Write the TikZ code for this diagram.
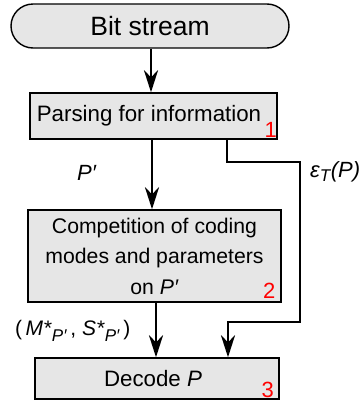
\documentclass[tikz,border=0pt]{standalone}
\usepackage{fontspec}
\setmainfont{Liberation Sans}
\usetikzlibrary{arrows.meta,shapes.misc}
\definecolor{boxgray}{HTML}{E6E6E6}
\begin{document}
\begin{tikzpicture}[x=1pt,y=1pt,
  box/.style={draw=black,line width=1.4pt,fill=boxgray,inner sep=0pt,align=center,font=\fontsize{22.3}{30}\selectfont},
  flow/.style={line width=2.8pt,-{Stealth[length=22pt,width=14pt,inset=7pt]}},
  lbl/.style={anchor=base west,inner sep=0pt,font=\fontsize{22}{26}\selectfont\itshape},
  num/.style={anchor=base east,inner sep=0pt,text=red,font=\fontsize{22}{26}\selectfont}]
\useasboundingbox (0,0) rectangle (362,-402);
\node[rounded rectangle,draw=black,line width=1.4pt,fill=boxgray,minimum width=278pt,minimum height=44pt,inner sep=0pt,font=\fontsize{26.5}{30}\selectfont] (bit) at (150,-26) {Bit stream};
\node[box,minimum width=247pt,minimum height=46pt] (parse) at (153.5,-116) {Parsing for information\hspace{9pt}};
\node[box,minimum width=253pt,minimum height=92pt,font=\fontsize{21.2}{30.5}\selectfont] (comp) at (154.5,-256) {Competition of coding\\modes and parameters\\on \textit{P′}};
\node[box,minimum width=244pt,minimum height=41pt] (dec) at (157,-378.5) {Decode \textit{P}\hspace{8pt}};
\node[num] (n1) at (277,-137) {1};
\node[num] (n2) at (275.5,-298) {2};
\node[num] (n3) at (274,-397) {3};
\node[lbl] (lp) at (77,-180) {P′};
\node[lbl] (leps) at (310,-177) {ε\textsubscript{\fontsize{17}{20}\selectfont T}(P)};
\node[lbl,font=\fontsize{21}{26}\selectfont] (lms) at (15,-335) {(\,\textit{M*}\raisebox{-6pt}{\fontsize{17}{20}\selectfont\textit{P′}}\,, \textit{S*}\raisebox{-6pt}{\fontsize{17}{20}\selectfont\textit{P′}}\,)};
\coordinate (a1) at (151,0);
\coordinate (a2) at (152,0);
\coordinate (a3) at (156,0);
\coordinate (c1) at (227,-162);
\coordinate (c2) at (300,-162);
\coordinate (c3) at (300,-322);
\coordinate (c4) at (228,-322);
\draw[flow] (a1 |- bit.south) -- (a1 |- parse.north);
\draw[flow] (a2 |- parse.south) -- (a2 |- comp.north);
\draw[flow] (a3 |- comp.south) -- (a3 |- dec.north);
\draw[flow] (c1 |- parse.south) -- (c1) -- (c2) -- (c3) -- (c4) -- (c4 |- dec.north);
\end{tikzpicture}
\end{document}
